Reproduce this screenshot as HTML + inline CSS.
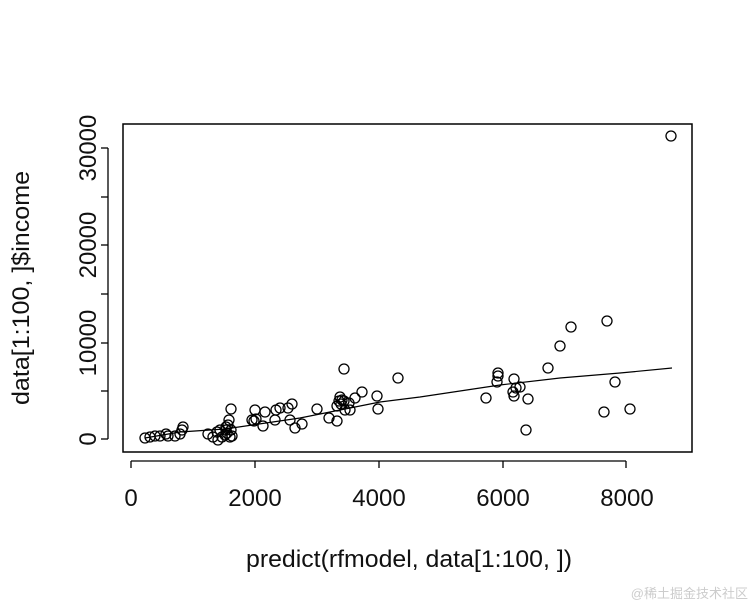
<!DOCTYPE html>
<html><head><style>body{margin:0;background:#fff}</style></head><body>
<svg width="756" height="606" xmlns="http://www.w3.org/2000/svg" font-family="Liberation Sans, Arial, sans-serif" font-size="24">
<rect x="0" y="0" width="756" height="606" fill="#fff"/>
<rect x="123" y="124" width="569" height="328" fill="none" stroke="#000" stroke-width="1.5"/>
<g stroke="#000" stroke-width="1.3">
<line x1="131" y1="461" x2="626" y2="461"/>
<line x1="131" y1="461" x2="131" y2="468"/><line x1="255" y1="461" x2="255" y2="468"/><line x1="379" y1="461" x2="379" y2="468"/><line x1="503" y1="461" x2="503" y2="468"/><line x1="626" y1="461" x2="626" y2="468"/>
<line x1="108" y1="148" x2="108" y2="439"/>
<line x1="101" y1="439" x2="108" y2="439"/><line x1="101" y1="391" x2="108" y2="391"/><line x1="101" y1="343" x2="108" y2="343"/><line x1="101" y1="294" x2="108" y2="294"/><line x1="101" y1="245" x2="108" y2="245"/><line x1="101" y1="197" x2="108" y2="197"/><line x1="101" y1="148" x2="108" y2="148"/>
</g>
<g text-anchor="middle" fill="#111">
<text x="131" y="506">0</text><text x="255" y="506">2000</text><text x="379" y="506">4000</text><text x="503" y="506">6000</text><text x="627" y="506">8000</text>
<text transform="translate(96,439) rotate(-90)">0</text>
<text transform="translate(96,343) rotate(-90)">10000</text>
<text transform="translate(96,245) rotate(-90)">20000</text>
<text transform="translate(96,148) rotate(-90)">30000</text>
<text x="409" y="567" textLength="326" lengthAdjust="spacingAndGlyphs">predict(rfmodel, data[1:100, ])</text>
<text transform="translate(29,288) rotate(-90)" textLength="234" lengthAdjust="spacingAndGlyphs">data[1:100, ]$income</text>
</g>
<polyline fill="none" stroke="#000" stroke-width="1.2" points="145,438 180,432 225,429 300,418 380,402 420,397 500,385 560,378 620,373 672,368"/>
<g fill="none" stroke="#000" stroke-width="1.3">
<circle cx="145" cy="438" r="5"/><circle cx="150" cy="437" r="5"/><circle cx="155" cy="436" r="5"/><circle cx="160" cy="436" r="5"/><circle cx="166" cy="434" r="5"/><circle cx="168" cy="436" r="5"/><circle cx="175" cy="436" r="5"/><circle cx="180" cy="434" r="5"/><circle cx="182" cy="430" r="5"/><circle cx="183" cy="427" r="5"/>
<circle cx="208" cy="434" r="5"/><circle cx="213" cy="437" r="5"/><circle cx="217" cy="432" r="5"/><circle cx="220" cy="430" r="5"/><circle cx="218" cy="440" r="5"/><circle cx="222" cy="437" r="5"/><circle cx="225" cy="435" r="5"/><circle cx="227" cy="433" r="5"/><circle cx="226" cy="427" r="5"/><circle cx="228" cy="425" r="5"/><circle cx="229" cy="420" r="5"/><circle cx="230" cy="437" r="5"/><circle cx="232" cy="436" r="5"/><circle cx="231" cy="430" r="5"/><circle cx="226" cy="430" r="5"/><circle cx="231" cy="409" r="5"/>
<circle cx="252" cy="420" r="5"/><circle cx="254" cy="421" r="5"/><circle cx="256" cy="419" r="5"/><circle cx="255" cy="410" r="5"/><circle cx="263" cy="426" r="5"/><circle cx="265" cy="412" r="5"/><circle cx="275" cy="420" r="5"/><circle cx="276" cy="410" r="5"/><circle cx="280" cy="408" r="5"/><circle cx="288" cy="408" r="5"/><circle cx="290" cy="420" r="5"/><circle cx="292" cy="404" r="5"/><circle cx="295" cy="428" r="5"/><circle cx="302" cy="424" r="5"/><circle cx="317" cy="409" r="5"/>
<circle cx="329" cy="418" r="5"/><circle cx="337" cy="421" r="5"/><circle cx="337" cy="406" r="5"/><circle cx="339" cy="401" r="5"/><circle cx="340" cy="397" r="5"/><circle cx="341" cy="404" r="5"/><circle cx="342" cy="400" r="5"/><circle cx="344" cy="401" r="5"/><circle cx="345" cy="410" r="5"/><circle cx="349" cy="403" r="5"/><circle cx="350" cy="410" r="5"/><circle cx="355" cy="398" r="5"/><circle cx="362" cy="392" r="5"/><circle cx="377" cy="396" r="5"/><circle cx="378" cy="409" r="5"/><circle cx="398" cy="378" r="5"/><circle cx="344" cy="369" r="5"/>
<circle cx="486" cy="398" r="5"/><circle cx="498" cy="373" r="5"/><circle cx="498" cy="376" r="5"/><circle cx="497" cy="382" r="5"/><circle cx="514" cy="379" r="5"/><circle cx="520" cy="387" r="5"/><circle cx="513" cy="392" r="5"/><circle cx="514" cy="396" r="5"/><circle cx="516" cy="388" r="5"/><circle cx="528" cy="399" r="5"/><circle cx="526" cy="430" r="5"/><circle cx="548" cy="368" r="5"/><circle cx="560" cy="346" r="5"/><circle cx="571" cy="327" r="5"/><circle cx="607" cy="321" r="5"/><circle cx="615" cy="382" r="5"/><circle cx="604" cy="412" r="5"/><circle cx="630" cy="409" r="5"/><circle cx="671" cy="136" r="5"/>
</g>
<text x="748" y="598" text-anchor="end" font-size="13" fill="#ccc" font-family="Liberation Sans, Noto Sans CJK SC, sans-serif">@稀土掘金技术社区</text>
</svg>
</body></html>
